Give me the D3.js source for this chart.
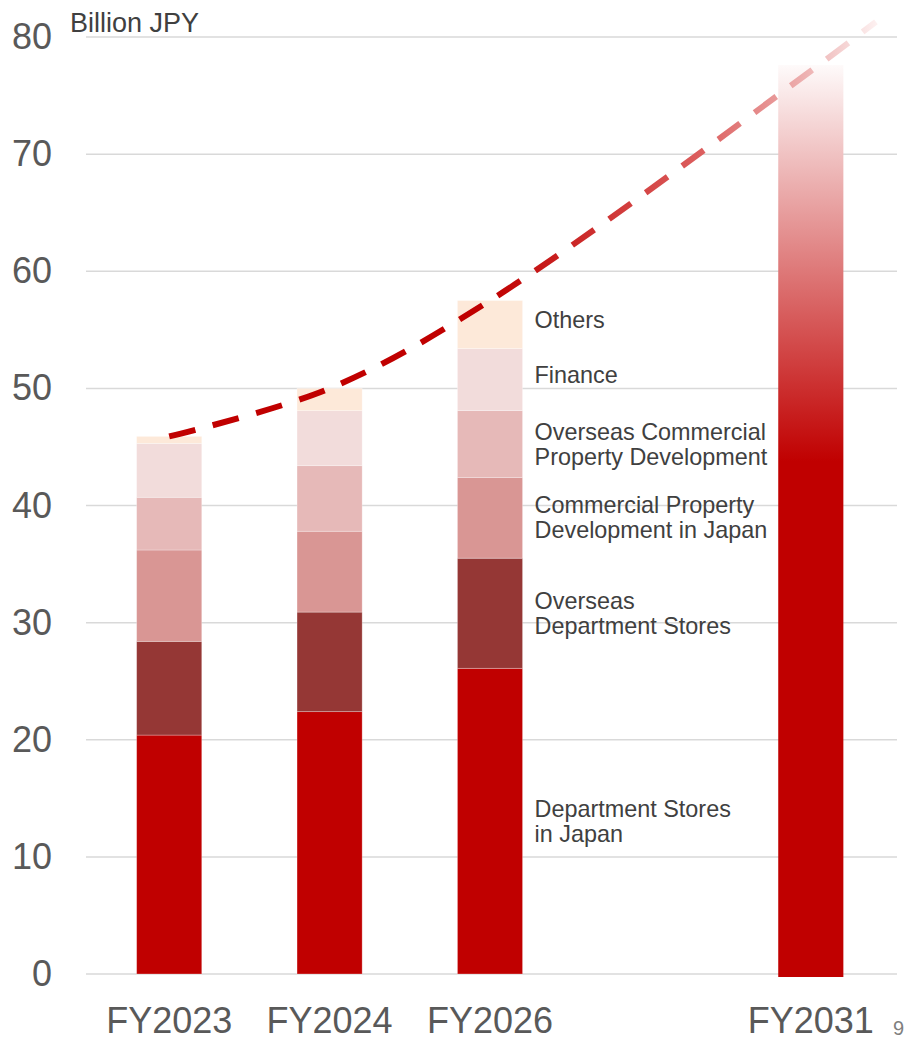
<!DOCTYPE html>
<html>
<head>
<meta charset="utf-8">
<script src="https://cdn.jsdelivr.net/npm/d3@7"></script>
<style>
    body { margin: 0; background: #fff; }
    text { font-family: "Liberation Sans", Arial, sans-serif; }
</style>
</head>
<body>
<div id="chart"></div>
<script>
(function(){
    var width = 913;
    var height = 1043;

    // data (billion JPY)
    var categories = ["FY2023", "FY2024", "FY2026", "FY2031"];
    var stackedCats = ["FY2023", "FY2024", "FY2026"];
    var segmentKeys = ["deptJapan", "deptOverseas", "propJapan", "propOverseas", "finance", "others"];
    var deptJapan = [20.4, 22.4, 26.1];
    var deptOverseas = [8.0, 8.5, 9.4];
    var propJapan = [7.8, 6.9, 6.9];
    var propOverseas = [4.5, 5.6, 5.7];
    var finance = [4.6, 4.7, 5.3];
    var others = [0.6, 1.9, 4.1];
    var fy2031Total = 77.6;
    var trendValues = [45.9, 50.0, 57.5, 77.1];
    var trendEnd = 81.3;
    var yTicks = [0, 10, 20, 30, 40, 50, 60, 70, 80];
    var segmentLabels = [
        ["Department Stores", "in Japan"],
        ["Overseas", "Department Stores"],
        ["Commercial Property", "Development in Japan"],
        ["Overseas Commercial", "Property Development"],
        ["Finance"],
        ["Others"]
    ];
    var segmentColors = ["#C00000", "#953735", "#D99694", "#E6B9B8", "#F2DCDB", "#FDE9D9"];

    var rows = stackedCats.map(function(c, i){
        return {
            cat: c,
            deptJapan: deptJapan[i],
            deptOverseas: deptOverseas[i],
            propJapan: propJapan[i],
            propOverseas: propOverseas[i],
            finance: finance[i],
            others: others[i]
        }
    })

    var svg = d3.select("#chart")
        .append("svg")
        .attr("width", width)
        .attr("height", height)

    var defs = svg.append("defs")

    // empty slot between FY2026 and FY2031
    var x = d3.scaleBand()
        .domain(["FY2023", "FY2024", "FY2026", "gap", "FY2031"])
        .range([89, 891])
        .paddingInner(0.594)
        .paddingOuter(0.297)

    var y = d3.scaleLinear()
        .domain([0, 80])
        .range([974, 37])

    // gridlines
    svg.append("g")
        .selectAll("line")
        .data(yTicks)
        .enter().append("line")
        .attr("x1", 86)
        .attr("x2", 897)
        .attr("y1", function(d){ return y(d) })
        .attr("y2", function(d){ return y(d) })
        .attr("stroke", "#d9d9d9")
        .attr("stroke-width", 1.5)

    // y axis labels
    var yAxis = svg.append("g")
        .attr("transform", "translate(55,0)")
        .call(d3.axisLeft(y).tickValues(yTicks).tickSize(0).tickPadding(3))
    yAxis.select(".domain").remove()
    yAxis.selectAll("text")
        .attr("font-size", 36)
        .attr("font-family", "Liberation Sans, Arial, sans-serif")
        .attr("fill", "#595959")

    // x axis labels
    var xAxis = svg.append("g")
        .attr("transform", "translate(0," + y(0) + ")")
        .call(d3.axisBottom(x).tickValues(categories).tickSize(0))
    xAxis.select(".domain").remove()
    xAxis.selectAll("text")
        .attr("y", 59)
        .attr("dy", null)
        .attr("font-size", 36)
        .attr("font-family", "Liberation Sans, Arial, sans-serif")
        .attr("fill", "#595959")

    // stacked bars
    var stack = d3.stack().keys(segmentKeys)
    var series = stack(rows)

    svg.append("g")
        .selectAll("g")
        .data(series)
        .enter().append("g")
        .attr("fill", function(d, i){ return segmentColors[i] })
        .selectAll("rect")
        .data(function(d){ return d })
        .enter().append("rect")
        .attr("x", function(d){ return x(d.data.cat) })
        .attr("width", x.bandwidth())
        .attr("y", function(d){ return y(d[1]) })
        .attr("height", function(d){ return y(d[0]) - y(d[1]) })
        .attr("stroke", "#ffffff")
        .attr("stroke-opacity", 0.35)
        .attr("stroke-width", 0.8)

    // FY2031 target bar with fade
    var barGrad = defs.append("linearGradient")
        .attr("id", "fy2031-fill")
        .attr("x1", 0).attr("y1", 0)
        .attr("x2", 0).attr("y2", 1)
    barGrad.append("stop").attr("offset", 0).attr("stop-color", "#fefafa")
    barGrad.append("stop").attr("offset", 0.435).attr("stop-color", "#C00000")
    barGrad.append("stop").attr("offset", 1).attr("stop-color", "#C00000")

    svg.append("rect")
        .attr("x", x("FY2031"))
        .attr("width", x.bandwidth())
        .attr("y", y(fy2031Total))
        .attr("height", y(0) - y(fy2031Total) + 3)
        .attr("fill", "url(#fy2031-fill)")

    // segment labels next to FY2026
    var last = stackedCats.length - 1
    var labelX = x("FY2026") + x.bandwidth() + 12
    var labels = svg.append("g")
        .selectAll("text")
        .data(series)
        .enter().append("text")
        .attr("x", labelX)
        .attr("font-size", 23.4)
        .attr("fill", "#404040")
        .attr("y", function(d, i){
            var mid = (y(d[last][0]) + y(d[last][1])) / 2
            var n = segmentLabels[i].length
            return mid - (n - 1) * 12.5 + 8 - (n === 1 ? 5 : 0)
        })
    labels.each(function(d, i){
        var t = d3.select(this)
        var lx = t.attr("x")
        segmentLabels[i].forEach(function(line, j){
            t.append("tspan")
                .attr("x", lx)
                .attr("dy", j === 0 ? 0 : 25)
                .text(line)
        })
    })

    // trend line
    var trendCenter = function(c){ return x(c) + x.bandwidth() / 2 }
    var endX = trendCenter("FY2031") + x.bandwidth()
    var trendPoints = categories.map(function(c, i){
        return [trendCenter(c), y(trendValues[i])]
    })
    trendPoints.push([endX, y(trendEnd)])

    var lineGrad = defs.append("linearGradient")
        .attr("id", "trend-stroke")
        .attr("gradientUnits", "userSpaceOnUse")
        .attr("x1", trendCenter("FY2026")).attr("y1", 0)
        .attr("x2", endX).attr("y2", 0)
    var lineStops = [[0, "#C00000"], [0.18, "#c92020"], [0.55, "#dc5f5f"], [0.74, "#e89898"], [0.88, "#f2c6c6"], [1, "#fdf0f0"]]
    lineStops.forEach(function(s){
        lineGrad.append("stop").attr("offset", s[0]).attr("stop-color", s[1])
    })

    svg.append("path")
        .datum(trendPoints)
        .attr("d", d3.line().curve(d3.curveCatmullRom.alpha(0.5)))
        .attr("fill", "none")
        .attr("stroke", "url(#trend-stroke)")
        .attr("stroke-width", 6)
        .attr("stroke-dasharray", "27,18")

    // unit label
    svg.append("text")
        .attr("x", 70)
        .attr("y", 32)
        .attr("font-size", 27)
        .attr("fill", "#404040")
        .text("Billion JPY")

    // page number
    svg.append("text")
        .attr("x", 893)
        .attr("y", 1035)
        .attr("font-size", 20)
        .attr("fill", "#7f7f7f")
        .text("9")
})();
</script>
</body>
</html>
